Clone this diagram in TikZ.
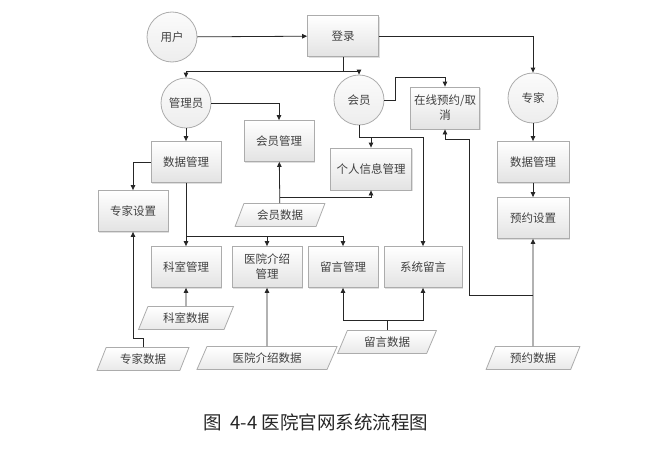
\documentclass[tikz,border=0pt]{standalone}
\usepackage{fontspec}
\newfontfamily\cjk{Noto Sans CJK SC}
\usetikzlibrary{arrows.meta,shapes.geometric,shadows}

\begin{document}
\begin{tikzpicture}[x=1pt,y=-1pt,color=gray!30!black,line width=0.8pt,
  every node/.style={font=\cjk\fontsize{11.5}{15}\selectfont,text=black!75},
  proc/.style={draw=gray!65,top color=white,bottom color=gray!22,minimum width=70pt,minimum height=41pt,align=center,
    drop shadow={opacity=0.25,shadow xshift=1pt,shadow yshift=-1pt}},
  role/.style={draw=gray!65,circle,top color=gray!3,bottom color=gray!14,minimum size=50pt,inner sep=0pt},
  store/.style={draw=gray!65,trapezium,trapezium left angle=65,trapezium right angle=115,trapezium stretches=true,
    top color=white,bottom color=gray!18,minimum height=23pt,inner sep=1pt},
  arr/.style={-{Triangle[length=5pt,width=4.5pt]}}]
\useasboundingbox (0,0) rectangle (669,455);
% roles
\node[role] (user) at (172,37) {用户};
\node[role] (admin) at (186,103) {管理员};
\node[role] (member) at (359,100) {会员};
\node[role] (expert) at (533,98) {专家};
% processes
\node[proc,minimum width=71pt] (login) at (343,36) {登录};
\node[proc] (membermgr) at (279,141) {会员管理};
\node[proc] (admindata) at (186,162) {数据管理};
\node[proc] (expset) at (133,211) {专家设置};
\node[proc] (deptmgr) at (186,267) {科室管理};
\node[proc] (intromgr) at (267,267) {医院介绍\\管理};
\node[proc] (msgmgr) at (343,267) {留言管理};
\node[proc,minimum width=78pt] (sysmsg) at (423,267) {系统留言};
\node[proc,minimum width=81pt,minimum height=42pt] (profile) at (371,169) {个人信息管理};
\node[proc,minimum width=69pt,minimum height=42pt] (booking) at (445,108) {在线预约/取\\消};
\node[proc,minimum width=72pt] (expdata) at (533,162) {数据管理};
\node[proc,minimum width=72pt] (bookset) at (533,218) {预约设置};
% data stores
\node[store,minimum width=90pt] (memberdb) at (280,215) {会员数据};
\node[store,minimum width=95pt] (deptdb) at (186,318) {科室数据};
\node[store,minimum width=92pt] (expertdb) at (143,359) {专家数据};
\node[store,minimum width=141pt] (introdb) at (267,358) {医院介绍数据};
\node[store,minimum width=99pt] (msgdb) at (387,342) {留言数据};
\node[store,minimum width=94pt] (bookdb) at (533,358) {预约数据};
% junctions
\coordinate (j1) at (343,71); \coordinate (j2) at (186,236); \coordinate (j3) at (359,137);
\coordinate (k1) at (395,77); \coordinate (k2) at (533,295); \coordinate (k3) at (469,139);
\coordinate (k4) at (280,197); \coordinate (k5) at (133,338); \coordinate (k6) at (387,320);
% connectors
\draw[arr] (user) -- (login); \draw[arr] (login) -| (expert);
\draw (login) -- (j1); \draw[arr] (j1) -| (admin); \draw[arr] (j1) -| (member);
\draw[arr] (admin) -| (membermgr); \draw[arr] (admin) -- (admindata);
\draw[arr] (admindata) -| (expset); \draw[arr] (admindata) -- (deptmgr);
\draw[arr] (j2) -| (intromgr); \draw[arr] (j2) -| (msgmgr);
\draw (member) -- (j3); \draw[arr] (j3) -| (profile); \draw[arr] (j3) -| (sysmsg);
\draw[arr] (member) -| (k1) -| (booking);
\draw[arr] (expert) -- (expdata); \draw[arr] (expdata) -- (bookset);
\draw[arr] (bookdb) -- (bookset); \draw[arr] (k2) -| (k3) -| (booking.south);
\draw[arr] (memberdb) -- (membermgr); \draw[arr] (k4) -| (profile.south);
\draw[arr] (deptdb) -- (deptmgr); \draw[arr] (introdb) -- (intromgr);
\draw[arr] (expertdb) |- (k5) -- (expset.south);
\draw (msgdb) -- (k6); \draw[arr] (k6) -| (msgmgr); \draw[arr] (k6) -| (sysmsg);
% caption
\node[font=\cjk\fontsize{18.5}{22}\selectfont,text=black!85] (cap) at (316,422) {图\ \ 4-4 医院官网系统流程图};
\end{tikzpicture}
\end{document}
